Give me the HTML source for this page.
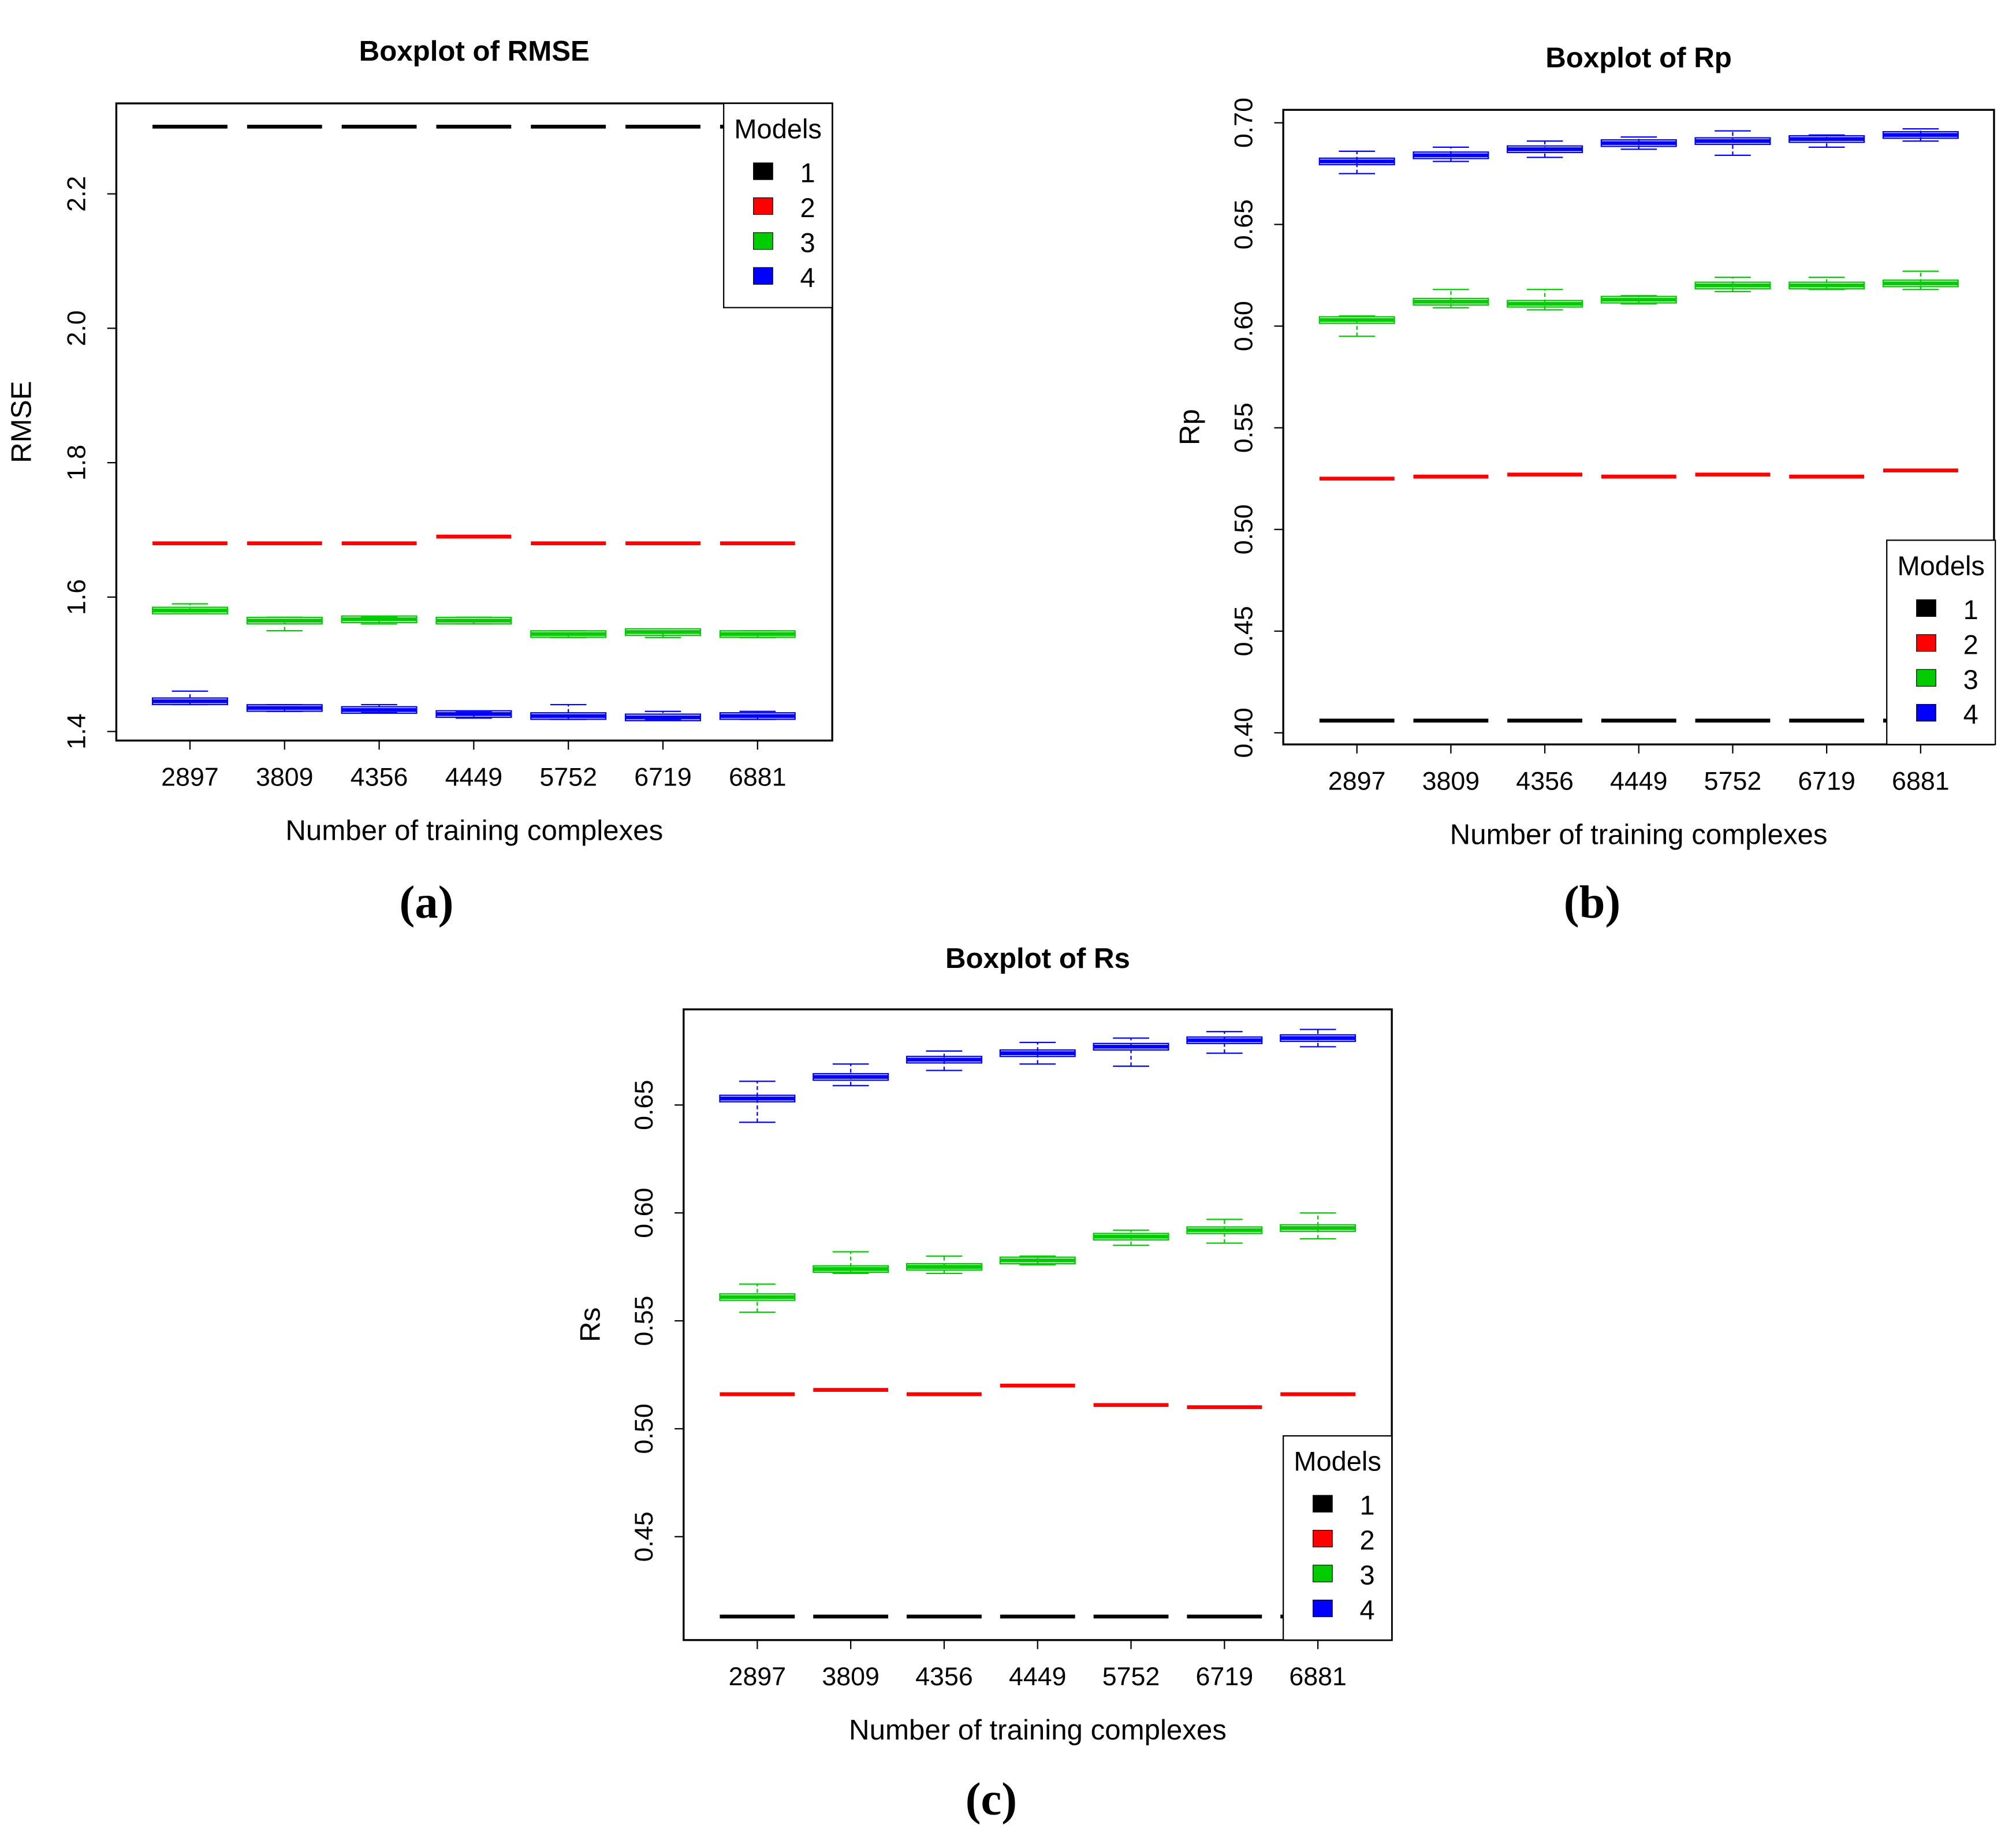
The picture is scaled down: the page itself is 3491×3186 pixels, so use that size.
<!DOCTYPE html>
<html><head><meta charset="utf-8"><style>
html,body{margin:0;padding:0;background:#fff}
svg{display:block}
text{font-family:"Liberation Sans",sans-serif}
</style></head><body>
<svg id="fig" width="3491" height="3186" viewBox="0 0 1560 1423.7" preserveAspectRatio="none" xmlns="http://www.w3.org/2000/svg"></svg>
<script>
const categories=["2897","3809","4356","4449","5752","6719","6881"];
const modelColors=["#000000","#ff0000","#00cc00","#0000ff"];
const modelNames=["1","2","3","4"];
// Panel a: RMSE
const rmseMed=[[2.30,2.30,2.30,2.30,2.30,2.30,2.30],[1.68,1.68,1.68,1.69,1.68,1.68,1.68],[1.58,1.565,1.567,1.565,1.545,1.548,1.545],[1.445,1.435,1.432,1.426,1.423,1.421,1.423]];
const rmseLo=[[2.30,2.30,2.30,2.30,2.30,2.30,2.30],[1.68,1.68,1.68,1.69,1.68,1.68,1.68],[1.578,1.55,1.56,1.56,1.54,1.54,1.54],[1.44,1.43,1.428,1.42,1.418,1.418,1.418]];
const rmseHi=[[2.30,2.30,2.30,2.30,2.30,2.30,2.30],[1.68,1.68,1.68,1.69,1.68,1.68,1.68],[1.59,1.57,1.57,1.57,1.55,1.55,1.55],[1.46,1.44,1.44,1.43,1.44,1.43,1.43]];
const rmseTicks=[1.4,1.6,1.8,2.0,2.2];
// Panel b: Rp
const rpMed=[[0.406,0.406,0.406,0.406,0.406,0.406,0.406],[0.525,0.526,0.527,0.526,0.527,0.526,0.529],[0.603,0.612,0.611,0.613,0.620,0.620,0.621],[0.681,0.684,0.687,0.690,0.691,0.692,0.694]];
const rpLo=[[0.406,0.406,0.406,0.406,0.406,0.406,0.406],[0.525,0.526,0.527,0.526,0.527,0.526,0.529],[0.595,0.609,0.608,0.611,0.617,0.618,0.618],[0.675,0.681,0.683,0.687,0.684,0.688,0.691]];
const rpHi=[[0.406,0.406,0.406,0.406,0.406,0.406,0.406],[0.525,0.526,0.527,0.526,0.527,0.526,0.529],[0.605,0.618,0.618,0.615,0.624,0.624,0.627],[0.686,0.688,0.691,0.693,0.696,0.694,0.697]];
const rpTicks=[0.40,0.45,0.50,0.55,0.60,0.65,0.70];
// Panel c: Rs
const rsMed=[[0.413,0.413,0.413,0.413,0.413,0.413,0.413],[0.516,0.518,0.516,0.520,0.511,0.510,0.516],[0.561,0.574,0.575,0.578,0.589,0.592,0.593],[0.653,0.663,0.671,0.674,0.677,0.680,0.681]];
const rsLo=[[0.413,0.413,0.413,0.413,0.413,0.413,0.413],[0.516,0.518,0.516,0.520,0.511,0.510,0.516],[0.554,0.572,0.572,0.576,0.585,0.586,0.588],[0.642,0.659,0.666,0.669,0.668,0.674,0.677]];
const rsHi=[[0.413,0.413,0.413,0.413,0.413,0.413,0.413],[0.516,0.518,0.516,0.520,0.511,0.510,0.516],[0.567,0.582,0.580,0.580,0.592,0.597,0.600],[0.661,0.669,0.675,0.679,0.681,0.684,0.685]];
const rsTicks=[0.45,0.50,0.55,0.60,0.65];

const NS="http://www.w3.org/2000/svg";
const svg=document.getElementById('fig');
function mk(tag,attrs,parent,txt){const e=document.createElementNS(NS,tag);for(const k in attrs)e.setAttribute(k,attrs[k]);if(txt!==undefined)e.textContent=txt;(parent||svg).appendChild(e);return e;}

function panel(p){
  const g=mk('g',{});
  
  
  const yS=v=>p.y0+(v-p.v0)*(p.y1-p.y0)/(p.v1-p.v0);
  const xS=i=>p.x0+i*p.dx;
  const bw=29;
  for(let m=0;m<4;m++){
    for(let i=0;i<categories.length;i++){
      const cx=xS(i),md=yS(p.med[m][i]),lo=yS(p.lo[m][i]),hi=yS(p.hi[m][i]);
      const c=modelColors[m];
      const bg=mk('g',{},g);
      
      
      if(m>=2){
        mk('line',{x1:cx,x2:cx,y1:lo,y2:hi,stroke:c,'stroke-width':1,'stroke-dasharray':'3,2'},bg);
        mk('line',{x1:cx-14,x2:cx+14,y1:lo,y2:lo,stroke:c,'stroke-width':1},bg);
        mk('line',{x1:cx-14,x2:cx+14,y1:hi,y2:hi,stroke:c,'stroke-width':1},bg);
        const q1=md+2.5,q3=md-2.5;
        mk('rect',{x:cx-bw,y:q3,width:2*bw,height:q1-q3,fill:'none',stroke:c,'stroke-width':1},bg);
      }
      mk('line',{x1:cx-bw,x2:cx+bw,y1:md,y2:md,stroke:c,'stroke-width':3},bg);
    }
  }
  const fr=mk('rect',{x:p.bx0,y:p.by0,width:p.bx1-p.bx0,height:p.by1-p.by0,fill:'none',stroke:'#000','stroke-width':1.5},g);
  
  const tb=p.by1;
  for(let i=0;i<categories.length;i++){
    const x=xS(i);
    mk('line',{x1:x,x2:x,y1:tb,y2:tb+7,stroke:'#000'},g);
    const t=mk('text',{x:x,y:tb+35,'text-anchor':'middle','font-size':20},g,categories[i]);
    
  }
  for(const v of p.ticks){
    const y=yS(v);
    mk('line',{x1:p.bx0,x2:p.bx0-7,y1:y,y2:y,stroke:'#000'},g);
    const t=mk('text',{x:0,y:0,'text-anchor':'middle','font-size':20,transform:`translate(${p.bx0-24},${y}) rotate(-90)`},g,p.fmt(v));
    
  }
  mk('line',{x1:p.bx0,x2:p.bx0,y1:yS(p.ticks[0]),y2:yS(p.ticks[p.ticks.length-1]),stroke:'#000'},g);
  const xt=mk('text',{x:(p.bx0+p.bx1)/2,y:p.by1+77,'text-anchor':'middle','font-size':22},g,'Number of training complexes');
  
  const yt=mk('text',{x:0,y:0,'text-anchor':'middle','font-size':22,transform:`translate(${p.ylx},${(p.by0+p.by1)/2}) rotate(-90)`},g,p.ylabel);
  
  const tt=mk('text',{x:(p.bx0+p.bx1)/2,y:p.ty,'text-anchor':'middle','font-size':22,'font-weight':'bold'},g,p.title);
  
  const lg=mk('g',{},g);
  
  mk('rect',{x:p.lx,y:p.ly,width:84,height:158,fill:'#fff',stroke:'#000','stroke-width':1},lg);
  mk('text',{x:p.lx+42,y:p.ly+27,'text-anchor':'middle','font-size':21},lg,'Models');
  for(let m=0;m<4;m++){
    const e=mk('g',{},lg);
    
    const yy=p.ly+53+m*27;
    mk('rect',{x:p.lx+23,y:yy-7,width:15,height:13,fill:modelColors[m],stroke:'#000','stroke-width':0.5},e);
    mk('text',{x:p.lx+65,y:yy+8,'text-anchor':'middle','font-size':21},e,modelNames[m]);
  }
  const lab=mk('text',{x:p.labx,y:p.laby,'text-anchor':'middle','font-size':36,'font-weight':'bold',style:'font-family:"Liberation Serif",serif'},g,p.label);
  
}
panel({name:'panel-a-rmse',med:rmseMed,lo:rmseLo,hi:rmseHi,ticks:rmseTicks,fmt:v=>v.toFixed(1),
  x0:147,dx:73.2,v0:1.4,v1:2.2,y0:566,y1:150,bx0:90,bx1:644,by0:80,by1:573,ylx:24,ylabel:'RMSE',title:'Boxplot of RMSE',ty:47,
  lx:560,ly:80,label:'(a)',labx:330,laby:710});
panel({name:'panel-b-rp',med:rpMed,lo:rpLo,hi:rpHi,ticks:rpTicks,fmt:v=>v.toFixed(2),
  x0:1050,dx:72.7,v0:0.40,v1:0.70,y0:567,y1:95,bx0:993,bx1:1543,by0:85,by1:576,ylx:928,ylabel:'Rp',title:'Boxplot of Rp',ty:52,
  lx:1460,ly:418,label:'(b)',labx:1232,laby:710});
panel({name:'panel-c-rs',med:rsMed,lo:rsLo,hi:rsHi,ticks:rsTicks,fmt:v=>v.toFixed(2),
  x0:586,dx:72.3,v0:0.45,v1:0.65,y0:1189,y1:855,bx0:529,bx1:1077,by0:781,by1:1269,ylx:464,ylabel:'Rs',title:'Boxplot of Rs',ty:749,
  lx:993,ly:1111,label:'(c)',labx:767,laby:1404});
</script>
</body></html>
